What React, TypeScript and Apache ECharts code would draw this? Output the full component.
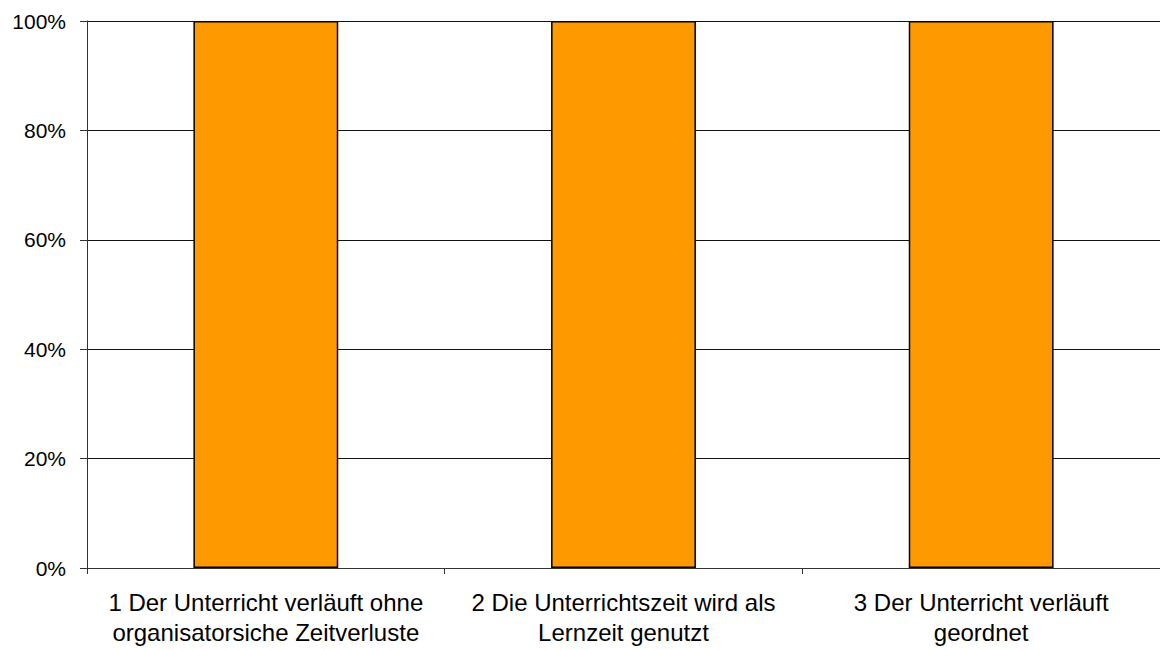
import React, { useEffect, useRef } from "react";
import * as echarts from "echarts";

const categories = [
  "1 Der Unterricht verläuft ohne\norganisatorsiche Zeitverluste",
  "2 Die Unterrichtszeit wird als\nLernzeit genutzt",
  "3 Der Unterricht verläuft\ngeordnet",
];
const values = [100, 100, 100];
const yTicks = [0, 20, 40, 60, 80, 100];

export default function App() {
  const ref = useRef<HTMLDivElement>(null);
  useEffect(() => {
    const chart = echarts.init(ref.current!, null, { renderer: "svg" });
    chart.setOption({
      animation: false,
      grid: { left: 87, right: 0, top: 21, bottom: 82, containLabel: false },
      xAxis: {
        type: "category",
        data: categories,
        axisLine: { lineStyle: { color: "#333", width: 1 } },
        axisTick: { show: true, length: 6, lineStyle: { color: "#333" } },
        axisLabel: {
          interval: 0,
          margin: 19,
          color: "#000",
          fontFamily: "Liberation Sans, Arial, sans-serif",
          fontSize: 24,
          lineHeight: 30,
          align: "center",
        },
        splitLine: { show: false },
      },
      yAxis: {
        type: "value",
        min: yTicks[0],
        max: yTicks[yTicks.length - 1],
        interval: 20,
        axisLine: { show: true, lineStyle: { color: "#333", width: 1 } },
        axisTick: { show: true, length: 7, lineStyle: { color: "#333" } },
        axisLabel: {
          formatter: (v: number) => v + "%",
          margin: 21,
          color: "#000",
          fontFamily: "Liberation Sans, Arial, sans-serif",
          fontSize: 21,
        },
        splitLine: { show: true, lineStyle: { color: "#111", width: 1 } },
      },
      series: [
        {
          type: "bar",
          data: values,
          barWidth: "40.5%",
          itemStyle: { color: "#FF9900", borderColor: "#000", borderWidth: 1.5 },
        },
      ],
    });
    return () => chart.dispose();
  }, []);
  return (
    <div
      ref={ref}
      style={{ position: "absolute", left: 0, top: 0, width: 1160, height: 650, background: "#fff" }}
    />
  );
}
